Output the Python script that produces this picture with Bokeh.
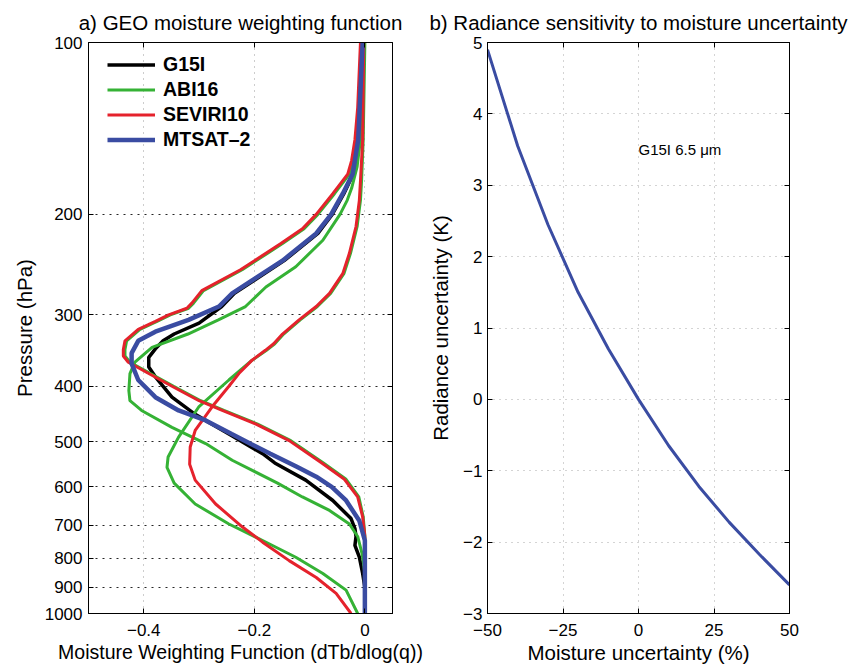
from bokeh.plotting import figure
from bokeh.models import (Range1d, FixedTicker, LinearAxis, LogAxis, Legend, LegendItem,
                          Label, Title, BasicTickFormatter)
from bokeh.layouts import row
from bokeh.embed import file_html
from bokeh.resources import INLINE

FONT = "Liberation Sans"

# ---------------- data: panel a (weighting functions) ----------------
pressure_ticks = [100, 200, 300, 400, 500, 600, 700, 800, 900, 1000]
pressure_tick_labels = ["100", "200", "300", "400", "500", "600", "700", "800", "900", "1000"]
wf_ticks = [-0.4, -0.2, 0.0]
wf_tick_labels = ["\u22120.4", "\u22120.2", "0"]

g15_p = [100, 148, 170, 184, 200, 216, 241, 261, 275, 290, 310, 324, 333, 344, 356, 370,
         385, 418, 448, 485, 525, 545, 584, 634, 682, 710, 733, 760, 797, 851, 900, 1000]
g15_v = [-0.006, -0.011, -0.021, -0.038, -0.059, -0.085, -0.146, -0.200, -0.236, -0.259,
         -0.300, -0.345, -0.365, -0.379, -0.391, -0.391, -0.379, -0.349, -0.307, -0.246,
         -0.185, -0.163, -0.107, -0.058, -0.025, -0.018, -0.016, -0.018, -0.010, -0.004, 0.0, 0.0]

abi62_p = [100, 130, 148, 161, 170, 184, 200, 212, 225, 250, 272, 286, 292, 300, 308, 318,
           333, 345, 354, 363, 380, 400, 424, 441, 466, 498, 545, 582, 625, 677, 732, 1000]
abi62_v = [-0.006, -0.011, -0.015, -0.021, -0.028, -0.055, -0.085, -0.110, -0.149, -0.222,
           -0.292, -0.310, -0.319, -0.352, -0.376, -0.407, -0.431, -0.434, -0.434, -0.425,
           -0.388, -0.346, -0.297, -0.255, -0.194, -0.134, -0.075, -0.034, -0.011, -0.003, 0.0, 0.0]

abi69_p = [100, 148, 165, 180, 189, 200, 222, 247, 268, 290, 306, 324, 342, 363, 380, 407,
           424, 441, 472, 504, 539, 591, 625, 660, 697, 733, 786, 850, 1000]
abi69_v = [-0.002, -0.008, -0.014, -0.024, -0.032, -0.045, -0.076, -0.125, -0.179, -0.216,
           -0.265, -0.320, -0.385, -0.416, -0.425, -0.427, -0.425, -0.404, -0.349, -0.288,
           -0.240, -0.158, -0.113, -0.064, -0.028, -0.013, -0.005, 0.0, 0.0]

abi73_p = [100, 148, 175, 189, 210, 234, 254, 275, 290, 306, 324, 337, 346, 360, 390, 434,
           491, 532, 555, 591, 643, 697, 745, 797, 851, 910, 1000]
abi73_v = [0.0, -0.003, -0.006, -0.008, -0.014, -0.026, -0.038, -0.062, -0.086, -0.117,
           -0.147, -0.163, -0.178, -0.204, -0.246, -0.300, -0.337, -0.356, -0.358, -0.345,
           -0.307, -0.246, -0.185, -0.125, -0.076, -0.034, -0.013]

sev62_p = [100, 130, 148, 161, 170, 184, 200, 212, 225, 250, 272, 286, 292, 300, 308, 318,
           333, 345, 354, 363, 380, 400, 424, 441, 466, 498, 545, 582, 625, 677, 732, 1000]
sev62_v = [-0.008, -0.013, -0.018, -0.024, -0.031, -0.058, -0.088, -0.113, -0.152, -0.225,
           -0.295, -0.313, -0.322, -0.355, -0.379, -0.410, -0.434, -0.437, -0.437, -0.428,
           -0.391, -0.349, -0.300, -0.258, -0.197, -0.137, -0.078, -0.037, -0.013, -0.004, 0.0, 0.0]

sev73_p = [100, 148, 175, 189, 210, 234, 254, 275, 290, 306, 324, 337, 346, 360, 380, 400,
           434, 478, 511, 548, 584, 643, 705, 750, 808, 865, 922, 1000]
sev73_v = [-0.002, -0.004, -0.008, -0.010, -0.016, -0.028, -0.040, -0.064, -0.088, -0.119,
           -0.149, -0.165, -0.180, -0.204, -0.228, -0.246, -0.276, -0.307, -0.316, -0.317,
           -0.307, -0.270, -0.222, -0.185, -0.137, -0.088, -0.052, -0.025]

mt_p = [100, 148, 170, 184, 200, 216, 241, 261, 275, 290, 306, 321, 333, 350, 365, 390,
        418, 441, 459, 485, 505, 525, 553, 576, 600, 634, 688, 745, 1000]
mt_v = [-0.004, -0.012, -0.022, -0.040, -0.061, -0.088, -0.149, -0.204, -0.240, -0.264,
        -0.319, -0.379, -0.410, -0.422, -0.422, -0.410, -0.379, -0.337, -0.288, -0.241,
        -0.206, -0.171, -0.124, -0.088, -0.060, -0.034, -0.010, 0.0, 0.0]

legend_labels = ["G15I", "ABI16", "SEVIRI10", "MTSAT\u20132"]

# ---------------- data: panel b ----------------
moist_pct = [-50, -40, -30, -20, -10, 0, 10, 20, 30, 40, 50]
rad_unc = [4.9, 3.55, 2.45, 1.5, 0.71, 0.0, -0.65, -1.22, -1.72, -2.17, -2.6]
pct_ticks = [-50, -25, 0, 25, 50]
pct_tick_labels = ["\u221250", "\u221225", "0", "25", "50"]
k_ticks = [-3, -2, -1, 0, 1, 2, 3, 4, 5]
k_tick_labels = ["\u22123", "\u22122", "\u22121", "0", "1", "2", "3", "4", "5"]

BLACK = "#000000"
GREEN = "#35b235"
RED = "#e5222c"
BLUE = "#3a4ca2"


def style_axis(ax, ticks, labels, label_text, standoff=6, label_standoff=4, label_size="20.5px"):
    ax.ticker = FixedTicker(ticks=ticks)
    ax.formatter = BasicTickFormatter(use_scientific=False)
    ax.major_label_overrides = {t: s for t, s in zip(ticks, labels)}
    ax.axis_line_color = "black"
    ax.major_tick_line_color = "black"
    ax.major_tick_in = 5
    ax.major_tick_out = 0
    ax.minor_tick_line_color = None
    ax.major_label_text_font = FONT
    ax.major_label_text_font_size = "17px"
    ax.major_label_text_color = "black"
    ax.major_label_standoff = standoff
    ax.axis_label = label_text
    ax.axis_label_text_font = FONT
    ax.axis_label_text_font_size = label_size
    ax.axis_label_text_font_style = "normal"
    ax.axis_label_text_color = "black"
    ax.axis_label_standoff = label_standoff


def hidden_axis(cls, ticks):
    # tick marks only (box-style inward ticks); labels are not painted
    return cls(ticker=FixedTicker(ticks=ticks), major_label_text_font_size="1px",
               major_label_text_color=None, major_label_standoff=0,
               major_tick_in=5, major_tick_out=0,
               minor_tick_line_color=None, axis_line_color="black",
               major_tick_line_color="black")


def add_title(p, text):
    t = Title(text=text, align="center", text_font=FONT, text_font_size="20.5px",
              text_font_style="normal", text_color="black", standoff=17)
    p.add_layout(t, "above")


# ---------------- panel a ----------------
p1 = figure(frame_width=304, frame_height=571, x_range=Range1d(-0.5, 0.05),
            y_range=Range1d(1000, 100), y_axis_type="log",
            output_backend="svg", toolbar_location=None,
            min_border_left=88, min_border_right=32, min_border_top=42, min_border_bottom=50)
p1.outline_line_color = "black"
p1.outline_line_alpha = 1.0
style_axis(p1.below[0], wf_ticks, wf_tick_labels,
           "Moisture Weighting Function (dTb/dlog(q))", standoff=10, label_standoff=2,
           label_size="19.5px")
style_axis(p1.left[0], pressure_ticks, pressure_tick_labels, "Pressure (hPa)",
           standoff=6, label_standoff=6)
p1.add_layout(hidden_axis(LinearAxis, wf_ticks), "above")
p1.add_layout(hidden_axis(LogAxis, pressure_ticks), "right")
add_title(p1, "a) GEO moisture weighting function")

p1.xgrid.grid_line_color = "#9a9a9a"
p1.xgrid.grid_line_dash = "1 5"
p1.ygrid.grid_line_color = "#000000"
p1.ygrid.grid_line_dash = "2 5"
p1.ygrid.grid_line_alpha = 0.85

r_g15 = p1.line(g15_v, g15_p, line_color=BLACK, line_width=3.5)
r_abi62 = p1.line(abi62_v, abi62_p, line_color=GREEN, line_width=3)
r_abi69 = p1.line(abi69_v, abi69_p, line_color=GREEN, line_width=3)
r_abi73 = p1.line(abi73_v, abi73_p, line_color=GREEN, line_width=3)
r_sev62 = p1.line(sev62_v, sev62_p, line_color=RED, line_width=3)
r_sev73 = p1.line(sev73_v, sev73_p, line_color=RED, line_width=3)
r_mt = p1.line(mt_v, mt_p, line_color=BLUE, line_width=4.5)

# legend: 4 rows of 25px, top edge ~10px below the frame top, 19px in from the left
legend = Legend(items=[LegendItem(label=legend_labels[0], renderers=[r_g15]),
                       LegendItem(label=legend_labels[1], renderers=[r_abi62]),
                       LegendItem(label=legend_labels[2], renderers=[r_sev62]),
                       LegendItem(label=legend_labels[3], renderers=[r_mt])],
                location=(19, 461), label_text_font=FONT, label_text_font_style="bold",
                label_text_font_size="19.5px", label_text_color="black",
                glyph_width=48, glyph_height=25, label_height=25, label_standoff=8,
                spacing=0, padding=0, margin=0, border_line_color=None,
                background_fill_alpha=0.0)
p1.add_layout(legend)

# ---------------- panel b ----------------
p2 = figure(frame_width=302, frame_height=571, x_range=Range1d(-50, 50),
            y_range=Range1d(-3, 5), output_backend="svg", toolbar_location=None,
            min_border_left=63, min_border_right=63, min_border_top=42, min_border_bottom=50)
p2.outline_line_color = "black"
p2.outline_line_alpha = 1.0
style_axis(p2.below[0], pct_ticks, pct_tick_labels, "Moisture uncertainty (%)",
           standoff=10, label_standoff=2)
style_axis(p2.left[0], k_ticks, k_tick_labels, "Radiance uncertainty (K)",
           standoff=5, label_standoff=8)
p2.add_layout(hidden_axis(LinearAxis, pct_ticks), "above")
p2.add_layout(hidden_axis(LinearAxis, k_ticks), "right")
add_title(p2, "b) Radiance sensitivity to moisture uncertainty")

for g in (p2.xgrid, p2.ygrid):
    g.grid_line_color = "#a8a8a8"
    g.grid_line_dash = "1 5"

p2.line(moist_pct, rad_unc, line_color=BLUE, line_width=3)
p2.add_layout(Label(x=0, y=3.5, text="G15I 6.5 \u03bcm", text_font=FONT,
                    text_font_size="15px", text_baseline="middle", text_align="left",
                    text_color="black"))

layout = row(p1, p2)
open("out.html", "w").write(file_html(layout, INLINE))
